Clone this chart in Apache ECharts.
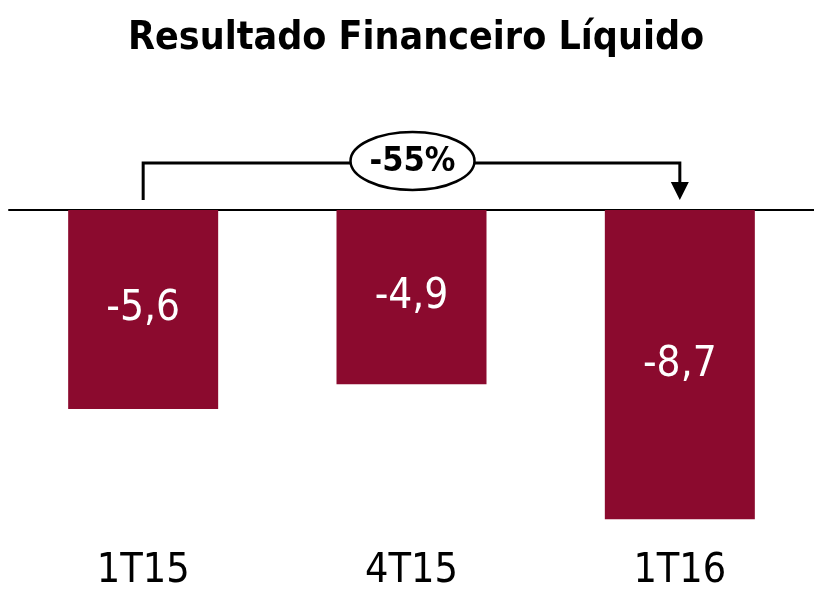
<!DOCTYPE html>
<html>
<head>
<meta charset="utf-8">
<script src="https://cdn.jsdelivr.net/npm/echarts@6/dist/echarts.min.js"></script>
<style>
  html, body { margin: 0; padding: 0; background: #fff; }
  #chart { width: 814px; height: 594px; }
</style>
</head>
<body>
<div id="chart"></div>
<script>
var categories = ['1T15', '4T15', '1T16'];
var values = [-5.6, -4.9, -8.7];
var changeLabel = '-55%';

var FONT = '"DejaVu Sans Condensed", "DejaVu Sans", sans-serif';
var BAR = '#8B0A2E';

var chart = echarts.init(document.getElementById('chart'));

var option = {
	animation: false,
	title: {
		text: 'Resultado Financeiro Líquido',
		left: 123,
		top: 14,
		textStyle: { fontFamily: FONT, fontWeight: 'bold', fontSize: 39, color: '#000' }
	},
	grid: { left: 9, right: -4, top: 210, bottom: 64 },
	xAxis: [{
		type: 'category',
		data: categories,
		position: 'bottom',
		axisLine: { show: false },
		axisTick: { show: false },
		axisLabel: { fontFamily: FONT, fontSize: 41, color: '#000', margin: 21 }
	}, {
		type: 'category',
		data: categories,
		position: 'top',
		axisLine: { show: true, lineStyle: { color: '#000', width: 2 } },
		axisTick: { show: false },
		axisLabel: { show: false }
	}],
	yAxis: {
		type: 'value',
		min: -9,
		max: 0,
		show: false,
		splitLine: { show: false }
	},
	series: [{
		type: 'bar',
		data: values,
		barWidth: 150,
		itemStyle: { color: BAR },
		label: {
			show: true,
			position: 'inside',
			fontFamily: FONT,
			fontSize: 42,
			color: '#fff',
			formatter: function(p) {
				return String(p.value).replace('.', ',');
			}
		}
	}]
};

chart.setOption(option);

// bracket from the first bar to the last one
function drawBracket() {
	var p0 = chart.convertToPixel({ xAxisIndex: 0, yAxisIndex: 0 }, [0, 0]);
	var p2 = chart.convertToPixel({ xAxisIndex: 0, yAxisIndex: 0 }, [categories.length - 1, 0]);
	var x0 = p0[0], x2 = p2[0], base = p0[1];
	var lineY = base - 47;
	var midX = (x0 + x2) / 2;

	chart.setOption({
		graphic: [{
			type: 'polyline',
			shape: { points: [[x0, base - 10], [x0, lineY], [x2, lineY], [x2, base - 26]] },
			style: { stroke: '#000', lineWidth: 3, fill: null }
		}, {
			type: 'polygon',
			shape: { points: [[x2 - 9, base - 28], [x2 + 9, base - 28], [x2, base - 10]] },
			style: { fill: '#000' }
		}, {
			type: 'ellipse',
			shape: { cx: midX + 1, cy: lineY - 2, rx: 62, ry: 29 },
			style: { fill: '#fff', stroke: '#000', lineWidth: 2.5 }
		}, {
			type: 'text',
			x: midX + 1,
			y: lineY - 1,
			style: {
				text: changeLabel,
				fontFamily: FONT,
				fontWeight: 'bold',
				fontSize: 34,
				fill: '#000',
				align: 'center',
				verticalAlign: 'middle'
			}
		}]
	});
}
drawBracket();
</script>
</body>
</html>
